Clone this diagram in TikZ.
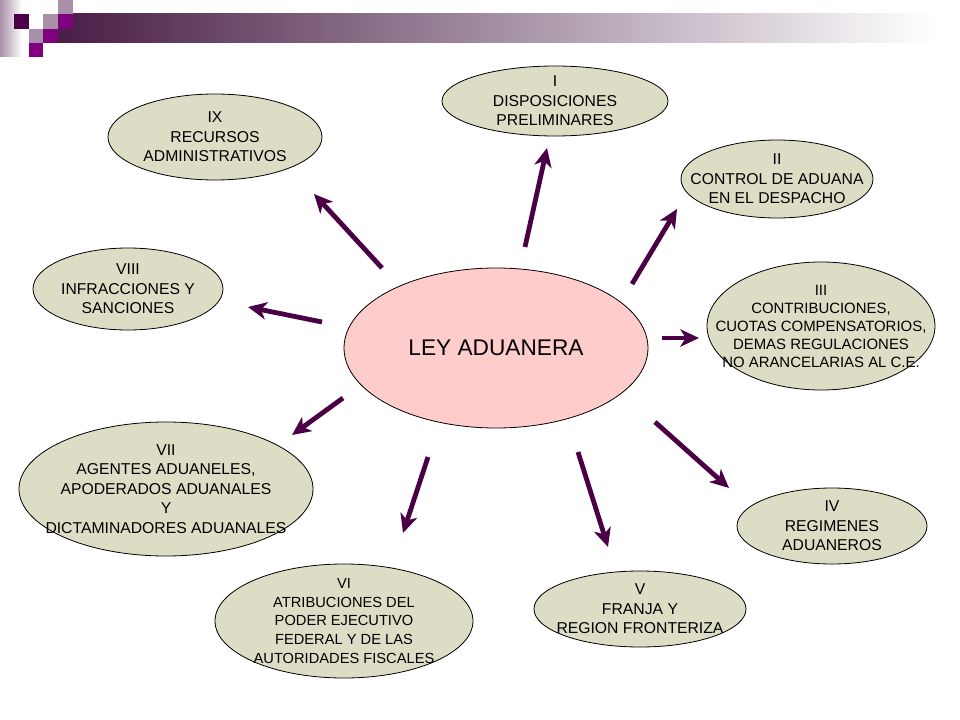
\documentclass[tikz,border=0pt]{standalone}
\usepackage{fontspec}
\setmainfont{Liberation Sans}
\usetikzlibrary{shapes.geometric,arrows.meta}
\definecolor{colseccion}{RGB}{221,221,198}
\definecolor{colcentro}{RGB}{255,204,204}
\definecolor{colflecha}{RGB}{75,0,70}
\definecolor{moradoclaro}{RGB}{168,144,168}
\definecolor{moradooscuro}{RGB}{75,0,75}
\definecolor{moradovivo}{RGB}{128,0,128}
\definecolor{barra}{RGB}{72,30,70}
\definecolor{barragris}{RGB}{200,196,201}
\tikzset{
  seccion/.style={ellipse,draw=black,line width=0.6pt,fill=colseccion,inner sep=0pt},
  texto/.style={align=center,inner sep=0pt,font=\fontsize{11.8}{14.6}\selectfont},
  flechita/.style={line width=3.6pt,draw=colflecha,-{Stealth[length=14pt,width=13pt,inset=4pt]}}
}
\begin{document}
\begin{tikzpicture}[x=0.75pt,y=-0.75pt]
  \useasboundingbox (0,0) rectangle (960,720);
  %bandeau du haut
  \shade[left color=moradoclaro, right color=white] (0,0) rectangle (22,57);
  \shade[left color=barra, middle color=barragris, right color=white] (58,14) rectangle (935,43);
  \fill[moradoclaro] (58,0) rectangle (73,14);
  \fill[moradooscuro] (14,14) rectangle (29,29);
  \fill[moradoclaro] (43,14) rectangle (58,29);
  \fill[moradovivo] (58,14) rectangle (73,29);
  \fill[moradoclaro] (29,29) rectangle (43,43);
  \fill[moradovivo] (43,29) rectangle (58,43);
  \fill[moradovivo] (29,43) rectangle (43,57);
  %ellipse centrale
  \node[ellipse,draw=black,line width=0.6pt,fill=colcentro,minimum width=228pt,minimum height=120pt,
        font=\fontsize{17}{20}\selectfont] (ley) at (496,348) {LEY ADUANERA};
  %titres
  \node[seccion,minimum width=169.5pt,minimum height=52.5pt] (s1) at (555,101) {};
  \node[texto] (t1) at (s1) {I\\DISPOSICIONES\\ PRELIMINARES};
  \node[seccion,minimum width=144pt,minimum height=58.5pt] (s2) at (777,179) {};
  \node[texto] (t2) at (s2) {II\\CONTROL DE ADUANA\\EN EL DESPACHO};
  \node[seccion,minimum width=171pt,minimum height=96pt] (s3) at (821,326) {};
  \node[texto,font=\fontsize{11.2}{13.5}\selectfont] (t3) at (s3)
        {III\\CONTRIBUCIONES,\\CUOTAS COMPENSATORIOS,\\DEMAS REGULACIONES\\NO ARANCELARIAS AL C.E.};
  \node[seccion,minimum width=142.5pt,minimum height=57pt] (s4) at (832,526) {};
  \node[texto] (t4) at (s4) {IV\\REGIMENES\\ADUANEROS};
  \node[seccion,minimum width=159pt,minimum height=57pt] (s5) at (640,609) {};
  \node[texto] (t5) at (s5) {V\\FRANJA Y\\REGION FRONTERIZA};
  \node[seccion,minimum width=193.5pt,minimum height=85.5pt] (s6) at (344,621) {};
  \node[texto,font=\fontsize{11}{13.9}\selectfont] (t6) at (s6)
        {VI\\ATRIBUCIONES DEL\\PODER EJECUTIVO\\FEDERAL Y DE LAS\\AUTORIDADES FISCALES};
  \node[seccion,minimum width=220.5pt,minimum height=100.5pt] (s7) at (166,489) {};
  \node[texto] (t7) at (s7) {VII\\AGENTES ADUANELES,\\APODERADOS ADUANALES\\Y\\DICTAMINADORES ADUANALES};
  \node[seccion,minimum width=142.5pt,minimum height=61.5pt] (s8) at (128,289) {};
  \node[texto] (t8) at (s8) {VIII\\INFRACCIONES Y\\SANCIONES};
  \node[seccion,minimum width=160.5pt,minimum height=64.5pt] (s9) at (215,137) {};
  \node[texto] (t9) at (s9) {IX\\RECURSOS\\ADMINISTRATIVOS};
  %fleches
  \coordinate (d1) at (525,247); \coordinate (f1) at (547,148);
  \coordinate (d2) at (632,284); \coordinate (f2) at (677,209);
  \coordinate (d3) at (662,338); \coordinate (f3) at (699,338);
  \coordinate (d4) at (655,422); \coordinate (f4) at (729,488);
  \coordinate (d5) at (578,452); \coordinate (f5) at (608,547);
  \coordinate (d6) at (428,457); \coordinate (f6) at (403,533);
  \coordinate (d7) at (343,398); \coordinate (f7) at (292,435);
  \coordinate (d8) at (322,322); \coordinate (f8) at (248,307);
  \coordinate (d9) at (382,268); \coordinate (f9) at (314,194);
  \draw[flechita] (d1) -- (f1);
  \draw[flechita] (d2) -- (f2);
  \draw[flechita] (d3) -- (f3);
  \draw[flechita] (d4) -- (f4);
  \draw[flechita] (d5) -- (f5);
  \draw[flechita] (d6) -- (f6);
  \draw[flechita] (d7) -- (f7);
  \draw[flechita] (d8) -- (f8);
  \draw[flechita] (d9) -- (f9);
\end{tikzpicture}
\end{document}
